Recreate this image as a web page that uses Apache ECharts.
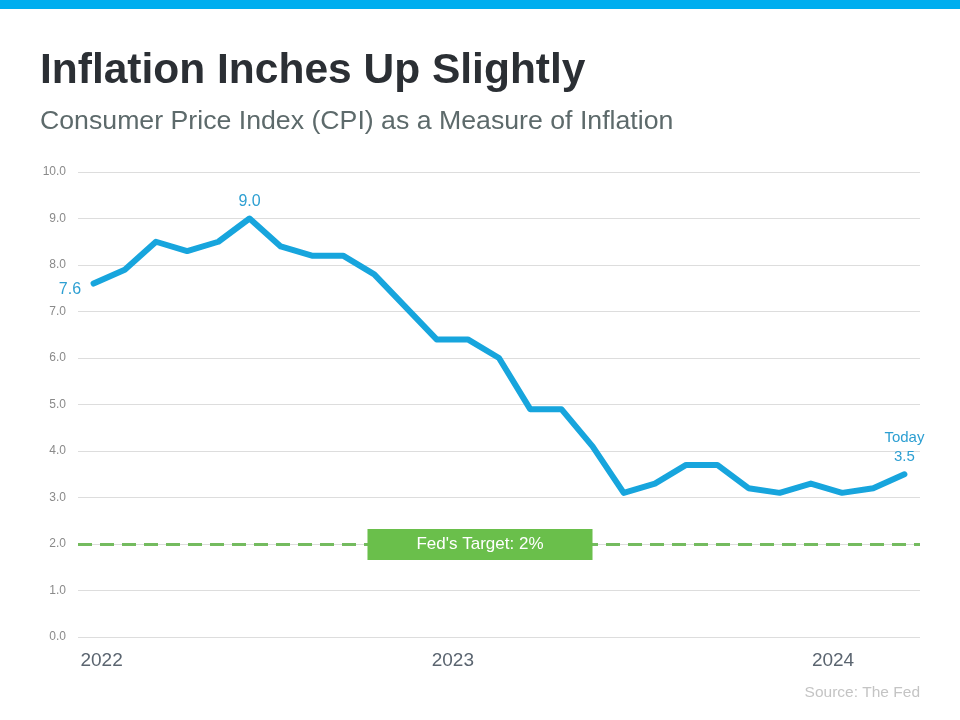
<!DOCTYPE html>
<html>
<head>
<meta charset="utf-8">
<script src="https://cdn.jsdelivr.net/npm/echarts@6/dist/echarts.min.js"></script>
<style>
  html, body { margin: 0; padding: 0; background: #ffffff; }
  #chart { width: 960px; height: 720px; }
</style>
</head>
<body>
<div id="chart"></div>
<script>
// ---- data ----
const months = [
  '2022-01','2022-02','2022-03','2022-04','2022-05','2022-06','2022-07','2022-08','2022-09','2022-10','2022-11','2022-12',
  '2023-01','2023-02','2023-03','2023-04','2023-05','2023-06','2023-07','2023-08','2023-09','2023-10','2023-11','2023-12',
  '2024-01','2024-02','2024-03'
];
const cpiValues = [
  7.6, 7.9, 8.5, 8.3, 8.5, 9.0, 8.4, 8.2, 8.2, 7.8, 7.1, 6.4,
  6.4, 6.0, 4.9, 4.9, 4.1, 3.1, 3.3, 3.7, 3.7, 3.2, 3.1, 3.3,
  3.1, 3.2, 3.5
];
const yTicks = ['0.0','1.0','2.0','3.0','4.0','5.0','6.0','7.0','8.0','9.0','10.0'];
const fedTarget = 2;
const fedTargetLabel = "Fed's Target: 2%";
const titleText = 'Inflation Inches Up Slightly';
const subtitleText = 'Consumer Price Index (CPI) as a Measure of Inflation';
const sourceText = 'Source: The Fed';
const pointLabels = { 0: '7.6', 5: '9.0', 26: 'Today\n3.5' };

// ---- chart ----
const chart = echarts.init(document.getElementById('chart'), null, { renderer: 'canvas' });
const blue = '#17a5dd';
const labelBlue = '#2d9fd2';
const font = 'Liberation Sans, Arial, sans-serif';

const labelStyles = {
  0: { position: 'left', distance: 12, offset: [0, 6], fontSize: 16 },
  5: { position: 'top', distance: 8, fontSize: 16 },
  26: { position: 'top', distance: 7, fontSize: 15, lineHeight: 19, align: 'center' }
};

const seriesData = cpiValues.map((v, i) => {
  if (pointLabels[i] !== undefined) {
    return {
      value: v,
      label: Object.assign({
        show: true,
        formatter: pointLabels[i],
        color: labelBlue,
        fontFamily: font
      }, labelStyles[i])
    };
  }
  return v;
});

const yearRich = {
  y2022: { padding: [0, 0, 0, 16] },
  y2023: { padding: [0, 30, 0, 0] },
  y2024: { padding: [0, 18, 0, 0] }
};

chart.setOption({
  animation: false,
  backgroundColor: '#ffffff',
  title: [
    {
      text: titleText,
      left: 35, top: 45,
      textStyle: { fontFamily: font, fontSize: 42.5, fontWeight: 'bold', color: '#2b2f34' }
    },
    {
      text: subtitleText,
      left: 35, top: 103,
      textStyle: { fontFamily: font, fontSize: 26.7, fontWeight: 'normal', color: '#5d6a6b' }
    },
    {
      text: sourceText,
      right: 35, top: 680,
      textStyle: { fontFamily: font, fontSize: 15.5, fontWeight: 'normal', color: '#c4c4c4' }
    }
  ],
  graphic: [
    { type: 'rect', left: 0, top: 0, shape: { width: 960, height: 9 }, style: { fill: '#00aeef' }, silent: true }
  ],
  grid: { left: 78, right: 40, top: 172, bottom: 83, containLabel: false },
  xAxis: {
    type: 'category',
    data: months,
    boundaryGap: true,
    axisLine: { show: false },
    axisTick: { show: false },
    splitLine: { show: false },
    axisLabel: {
      interval: 0,
      margin: 14,
      fontFamily: font,
      fontSize: 19,
      color: '#5b6570',
      formatter: function (val) {
        const parts = val.split('-');
        if (parts[1] === '01') return '{y' + parts[0] + '|' + parts[0] + '}';
        return '';
      },
      rich: yearRich
    }
  },
  yAxis: {
    type: 'value',
    min: 0, max: 10, interval: 1,
    axisLine: { show: false },
    axisTick: { show: false },
    splitLine: { show: true, lineStyle: { color: '#dddddd', width: 1 } },
    axisLabel: {
      margin: 12,
      fontFamily: font,
      fontSize: 12,
      color: '#8a8a8a',
      formatter: function (v) { return yTicks[Math.round(v)]; }
    }
  },
  series: [
    {
      type: 'line',
      data: seriesData,
      symbol: 'circle',
      symbolSize: 1,
      itemStyle: { color: blue },
      lineStyle: { color: blue, width: 6, join: 'round', cap: 'round' },
      emphasis: { disabled: true },
      z: 3,
      markLine: {
        silent: true,
        symbol: ['none', 'none'],
        z: 2,
        lineStyle: { color: '#74bb5f', width: 3, type: [14, 8] },
        label: {
          show: true,
          position: 'middle',
          formatter: fedTargetLabel,
          backgroundColor: '#6abf4b',
          color: '#ffffff',
          fontFamily: font,
          fontSize: 17,
          padding: [7, 49, 7, 49],
          offset: [-19, 21]
        },
        data: [{ yAxis: fedTarget }]
      }
    }
  ]
});
</script>
</body>
</html>
